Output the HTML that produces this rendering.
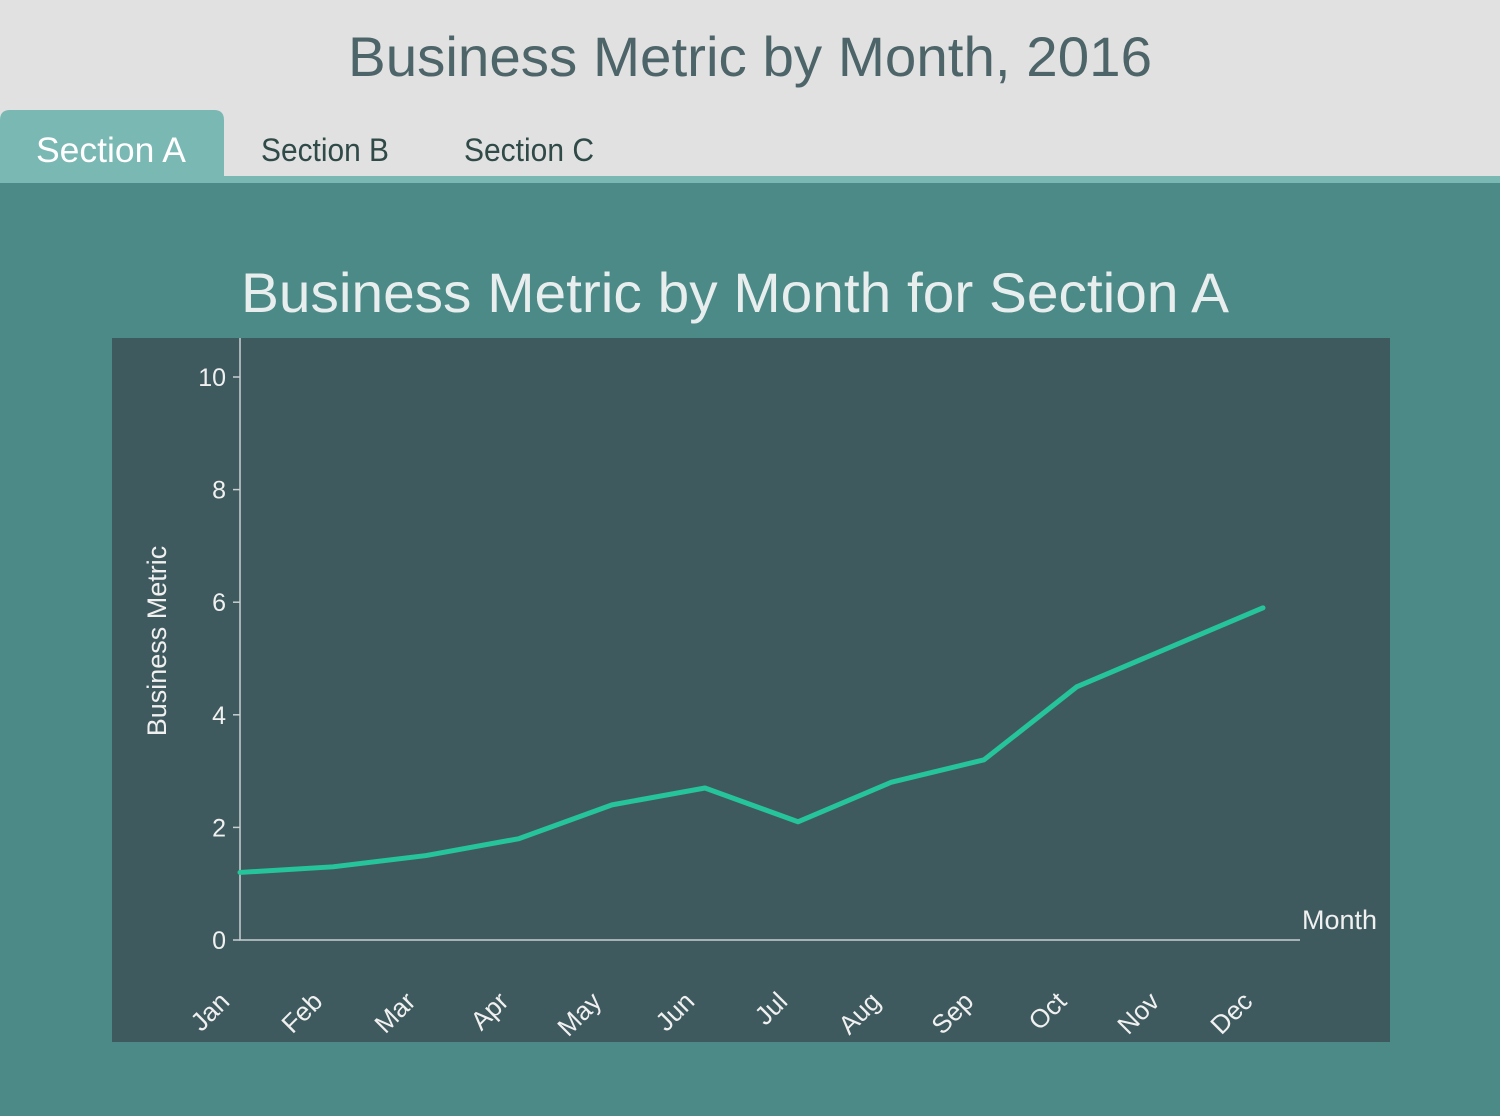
<!DOCTYPE html>
<html><head><meta charset="utf-8"><style>
body{margin:0;width:1500px;height:1111px;overflow:hidden;background:#4b8a87;font-family:"Liberation Sans",sans-serif}
svg text{font-family:"Liberation Sans",sans-serif}
</style></head><body>
<svg width="1500" height="1111">
<rect x="0" y="0" width="1500" height="176" fill="#e1e1e1"/>
<text x="750" y="76" text-anchor="middle" font-size="56" fill="#4d6569" textLength="804" lengthAdjust="spacingAndGlyphs">Business Metric by Month, 2016</text>
<path d="M0,183 V120 Q0,110 10,110 H214 Q224,110 224,120 V183 Z" fill="#7ab8b4"/>
<text x="111" y="162" text-anchor="middle" font-size="35" fill="#ffffff" textLength="150" lengthAdjust="spacingAndGlyphs">Section A</text>
<text x="325" y="161" text-anchor="middle" font-size="32" fill="#2f4a47" textLength="128" lengthAdjust="spacingAndGlyphs">Section B</text>
<text x="529" y="161" text-anchor="middle" font-size="32" fill="#2f4a47" textLength="130" lengthAdjust="spacingAndGlyphs">Section C</text>
<rect x="0" y="176" width="1500" height="7" fill="#7ab8b4"/>
<text x="735" y="312" text-anchor="middle" font-size="56" fill="#e8eeee" textLength="988" lengthAdjust="spacingAndGlyphs">Business Metric by Month for Section A</text>
<rect x="112" y="338" width="1278" height="704" fill="#3f5a5e"/>
<g id="chart"></g>
</svg>
<script>
const months=["Jan","Feb","Mar","Apr","May","Jun","Jul","Aug","Sep","Oct","Nov","Dec"];
const values=[1.2,1.3,1.5,1.8,2.4,2.7,2.1,2.8,3.2,4.5,5.2,5.9];
const yTicks=[0,2,4,6,8,10];
const NS="http://www.w3.org/2000/svg";
const g=document.getElementById("chart");
const xS=i=>240+i*93;
const yS=v=>940-v*56.3;
function mk(t,a,p){const e=document.createElementNS(NS,t);for(const k in a)e.setAttribute(k,a[k]);(p||g).appendChild(e);return e;}
let ax=mk("path",{d:`M240,338 V940 H1300`,stroke:"#c8d0d0","stroke-width":1.5,fill:"none"});


yTicks.forEach(v=>{
 const tk=mk("line",{x1:233,x2:240,y1:yS(v),y2:yS(v),stroke:"#c8d0d0","stroke-width":1.5});
 
 
 const t=mk("text",{x:226,y:yS(v)+9,"text-anchor":"end","font-size":25,fill:"#f0f0f0"});
 t.textContent=v;
 
 
});
months.forEach((m,i)=>{
 const x=xS(i)-9,y=1003;
 const t=mk("text",{x:x,y:y,"text-anchor":"end","font-size":26,fill:"#f0f0f0",transform:`rotate(-45 ${x} ${y})`});
 t.textContent=m;
 
 
});
const yt=mk("text",{x:166,y:641,"text-anchor":"middle","font-size":27,fill:"#f0f0f0",transform:"rotate(-90 166 641)"});
yt.textContent="Business Metric";


const xt=mk("text",{x:1302,y:929,"font-size":27,fill:"#f0f0f0"});
xt.textContent="Month";


const ln=mk("polyline",{points:values.map((v,i)=>xS(i)+","+yS(v)).join(" "),fill:"none",stroke:"#26c49a","stroke-width":5,"stroke-linejoin":"round","stroke-linecap":"round"});


</script>
</body></html>
